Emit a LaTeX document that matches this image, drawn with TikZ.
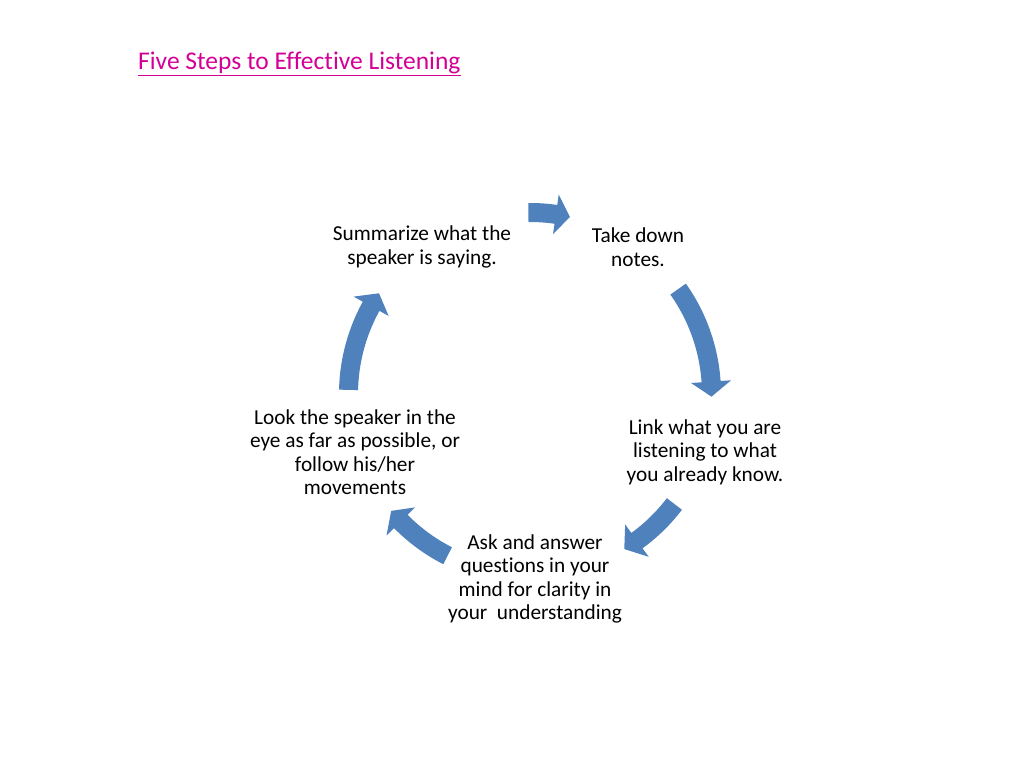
\documentclass[tikz,border=0pt]{standalone}
\usepackage{fontspec}
\setmainfont{Carlito}[Ligatures=NoCommon]
\usetikzlibrary{calc}
\definecolor{arrowblue}{HTML}{4F81BD}
\definecolor{titlepink}{RGB}{212,0,150}
\newcommand\cyclearrow[3]{%
  \fill[arrowblue] (#1:172) arc[start angle=#1, end angle=#2, radius=172]
    -- (#2:161.5) -- (#3:181.5) -- (#2:201.5) -- (#2:191)
    arc[start angle=#2, end angle=#1, radius=191] -- cycle;}
\tikzset{
  steptext/.style={align=center, font=\fontsize{21.3}{23.5}\selectfont, inner sep=0pt},
}
\begin{document}
\begin{tikzpicture}[x=1pt,y=1pt]
\useasboundingbox (0,0) rectangle (1024,768);
\fill[white] (0,0) rectangle (1024,768);
\node[anchor=base west, inner sep=0pt, text=titlepink, font=\fontsize{25.5}{30}\selectfont] (title) at (138,698) {Five Steps to Effective Listening};
\draw[titlepink, line width=1.6pt] ($(title.base west)+(0,-5.7)$) -- ($(title.base east)+(0,-5.7)$);
\coordinate (center) at (530,374);
\begin{scope}[shift={(center)}]
  \cyclearrow{90.5}{81.8}{77.3}
  \cyclearrow{35.3}{3.9}{-0.85}
  \cyclearrow{-37.3}{-53.9}{-58.7}
  \cyclearrow{-117}{-135.4}{-139.9}
  \cyclearrow{178.7}{151.1}{146.3}
\end{scope}
\node[steptext] (summ) at (422,521) {Summarize what the\\speaker is saying.};
\node[steptext] (notes) at (638,521) {Take down\\notes.};
\node[steptext] (link) at (705,316) {Link what you are\\listening to what\\you already know.};
\node[steptext] (ask) at (535,189) {Ask and answer\\questions in your\\mind for clarity in\\your~ understanding};
\node[steptext] (look) at (355,316) {Look the speaker in the\\eye as far as possible, or\\follow his/her\\movements};
\end{tikzpicture}
\end{document}
